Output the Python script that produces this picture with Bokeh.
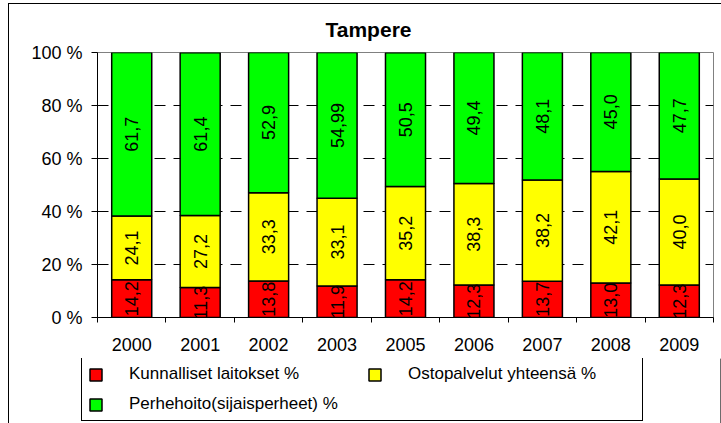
import numpy as np
from bokeh.plotting import figure
from bokeh.layouts import column
from bokeh.models import ColumnDataSource, FixedTicker, Range1d, Legend, LegendItem
from bokeh.core.properties import value
from bokeh.embed import file_html
from bokeh.resources import INLINE

# ---- data ----
years = ["2000", "2001", "2002", "2003", "2005", "2006", "2007", "2008", "2009"]
kunnalliset = [14.2, 11.3, 13.8, 11.9, 14.2, 12.3, 13.7, 13.0, 12.3]
ostopalvelut = [24.1, 27.2, 33.3, 33.1, 35.2, 38.3, 38.2, 42.1, 40.0]
perhehoito = [61.7, 61.4, 52.9, 54.99, 50.5, 49.4, 48.1, 45.0, 47.7]
series_names = ["Kunnalliset laitokset %", "Ostopalvelut yhteensä %", "Perhehoito(sijaisperheet) %"]
colors = ["#FF0000", "#FFFF00", "#00FF00"]
y_ticks = [0, 20, 40, 60, 80, 100]
y_tick_labels = ["0 %", "20 %", "40 %", "60 %", "80 %", "100 %"]
title_text = "Tampere"

FONT = "Liberation Sans"

xs = [i + 0.5 for i in range(len(years))]
series = [kunnalliset, ostopalvelut, perhehoito]
keys = ["k", "o", "p"]
source = ColumnDataSource(dict(x=xs, k=kunnalliset, o=ostopalvelut, p=perhehoito))

H1 = 358
p = figure(width=721, height=H1, x_range=Range1d(0, len(years)), y_range=Range1d(0, 100),
           output_backend="svg", toolbar_location=None, title=title_text,
           min_border_left=97, min_border_right=8, min_border_top=52, min_border_bottom=H1 - 317)
p.background_fill_color = "white"
p.border_fill_color = "white"
p.border_fill_alpha = 0
p.outline_line_color = "#808080"
p.outline_line_width = 1

p.vbar_stack(keys, x="x", width=0.585, color=colors, line_color="black",
             line_width=1.5, source=source)

# data labels
lx, ly, lt = [], [], []
bottoms = [0.0] * len(years)
for vals in series:
    for i, v in enumerate(vals):
        lx.append(xs[i])
        ly.append(bottoms[i] + v / 2.0)
        lt.append(str(v).replace(".", ","))
        bottoms[i] += v
p.text(x=lx, y=ly, text=lt, angle=np.pi / 2, text_align="center", text_baseline="middle",
       text_font=value(FONT), text_font_size="18px", text_color="black")

# title
p.title.text_font = FONT
p.title.text_font_size = "21px"
p.title.text_font_style = "bold"
p.title.text_color = "black"
p.title.align = "left"
p.title.offset = 228
p.title.standoff = 24

# x axis
p.xaxis.ticker = FixedTicker(ticks=xs, minor_ticks=list(range(len(years) + 1)))
p.xaxis.major_label_overrides = {x: y for x, y in zip(xs, years)}
p.xaxis.major_tick_line_color = None
p.xaxis.major_tick_out = 0
p.xaxis.major_tick_in = 0
p.xaxis.minor_tick_line_color = "black"
p.xaxis.minor_tick_in = 0
p.xaxis.minor_tick_out = 5
p.xaxis.axis_line_color = "black"
p.xaxis.major_label_standoff = 15
p.xaxis.major_label_text_font = FONT
p.xaxis.major_label_text_font_size = "18px"
p.xaxis.major_label_text_color = "black"

# y axis
p.yaxis.ticker = FixedTicker(ticks=y_ticks)
p.yaxis.major_label_overrides = {t: l for t, l in zip(y_ticks, y_tick_labels)}
p.yaxis.minor_tick_line_color = None
p.yaxis.major_tick_in = 0
p.yaxis.major_tick_out = 6
p.yaxis.major_tick_line_color = "black"
p.yaxis.axis_line_color = "black"
p.yaxis.major_label_standoff = 9
p.yaxis.major_label_text_font = FONT
p.yaxis.major_label_text_font_size = "18px"
p.yaxis.major_label_text_color = "black"

# grid
p.xgrid.visible = False
p.ygrid.ticker = FixedTicker(ticks=[20, 40, 60, 80])
p.ygrid.grid_line_color = "black"
p.ygrid.grid_line_dash = "11 8"
p.ygrid.grid_line_width = 1

# legend strip (separate figure so the legend is not clipped by the plot frame)
H2 = 423 - H1
q = figure(width=721, height=H2, x_range=Range1d(0, 1), y_range=Range1d(0, 1),
           output_backend="svg", toolbar_location=None,
           min_border_left=0, min_border_right=0, min_border_top=0, min_border_bottom=0)
q.frame_align = False
q.axis.visible = False
q.grid.visible = False
q.outline_line_color = None
q.background_fill_alpha = 0
q.border_fill_alpha = 0
# off-frame proxy glyphs that only provide the legend swatches
legend_renderers = [q.vbar(x=[5], top=[1], width=0.5, color=c, line_color="black", line_width=1.5)
                    for c in colors]

lg = Legend(items=[LegendItem(label=n, renderers=[r]) for n, r in zip(series_names, legend_renderers)])
lg.orientation = "horizontal"
lg.ncols = 2
lg.location = (81, 2)
lg.padding = 6
lg.spacing = 10
lg.margin = 0
lg.glyph_width = 15
lg.glyph_height = 15
lg.label_standoff = 26
lg.label_width = 228
lg.label_height = 20
lg.label_text_font = FONT
lg.label_text_font_size = "17px"
lg.label_text_color = "black"
lg.border_line_color = "black"
lg.border_line_width = 1
lg.border_line_alpha = 1
lg.background_fill_color = "white"
lg.background_fill_alpha = 1
q.add_layout(lg, "center")

layout = column(p, q, spacing=0)
layout.styles = {"box-shadow": "inset 8px 3px 0 0 white, inset 9px 4px 0 0 black"}

open("out.html", "w").write(file_html(layout, INLINE))
